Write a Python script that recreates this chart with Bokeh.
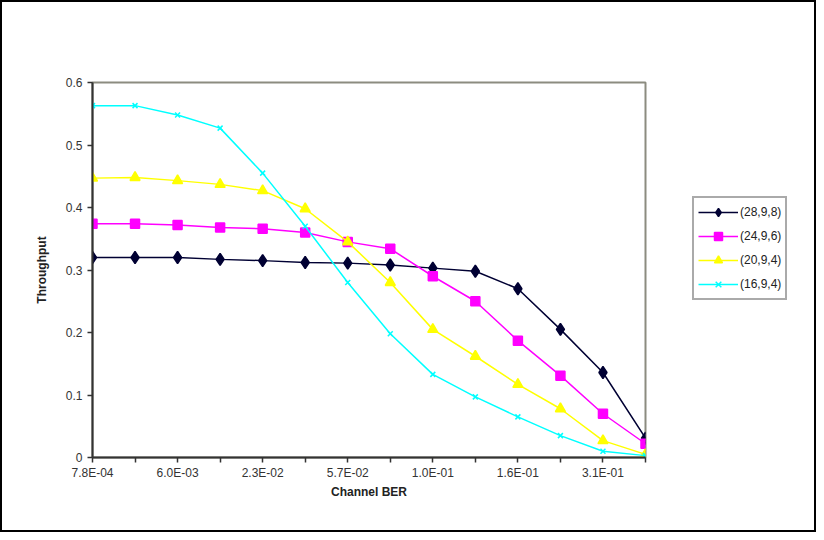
from bokeh.plotting import figure
from bokeh.layouts import row
from bokeh.models import FixedTicker, Legend, LegendItem, Range1d
from bokeh.embed import file_html
from bokeh.resources import INLINE

# ---- data ----
x_labels = ["7.8E-04", "", "6.0E-03", "", "2.3E-02", "", "5.7E-02", "",
            "1.0E-01", "", "1.6E-01", "", "3.1E-01", ""]
series_names = ["(28,9,8)", "(24,9,6)", "(20,9,4)", "(16,9,4)"]
s28 = [0.320, 0.320, 0.320, 0.317, 0.315, 0.312, 0.311, 0.308, 0.303, 0.298, 0.270, 0.205, 0.136, 0.031]
s24 = [0.374, 0.374, 0.372, 0.368, 0.366, 0.360, 0.345, 0.334, 0.290, 0.250, 0.187, 0.131, 0.070, 0.022]
s20 = [0.447, 0.448, 0.443, 0.437, 0.427, 0.398, 0.345, 0.280, 0.205, 0.162, 0.117, 0.078, 0.027, 0.005]
s16 = [0.563, 0.563, 0.548, 0.527, 0.455, 0.370, 0.280, 0.198, 0.133, 0.097, 0.065, 0.035, 0.010, 0.003]
y_ticks = [0, 0.1, 0.2, 0.3, 0.4, 0.5, 0.6]

xs = list(range(len(x_labels)))

p = figure(width=653, height=532, output_backend="svg", toolbar_location=None,
           x_range=Range1d(0, len(x_labels) - 1), y_range=Range1d(0, 0.6),
           min_border_left=90, min_border_right=10, min_border_top=80, min_border_bottom=77)
p.styles = {"border": "2px solid #000000", "border-right": "none"}
p.background_fill_color = "white"
p.border_fill_color = "white"
p.grid.visible = False
p.outline_line_color = "#8c8c80"
p.outline_line_width = 2

FONT = "Liberation Sans"
p.xaxis.ticker = FixedTicker(ticks=xs)
p.xaxis.major_label_overrides = {i: l for i, l in enumerate(x_labels)}
p.yaxis.ticker = FixedTicker(ticks=y_ticks)
p.yaxis.major_label_overrides = {0: "0", 0.1: "0.1", 0.2: "0.2", 0.3: "0.3", 0.4: "0.4", 0.5: "0.5", 0.6: "0.6"}
for ax in (p.xaxis[0], p.yaxis[0]):
    ax.minor_tick_line_color = None
    ax.major_tick_in = 0
    ax.major_tick_out = 5
    ax.axis_line_color = "#333333"
    ax.axis_line_width = 2
    ax.major_tick_line_color = "#333333"
    ax.major_tick_line_width = 1.5
    ax.major_label_text_font = FONT
    ax.major_label_text_font_size = "12px"
    ax.major_label_text_color = "#333333"
    ax.axis_label_text_font = FONT
    ax.axis_label_text_font_size = "12px"
    ax.axis_label_text_font_style = "bold"
    ax.axis_label_text_color = "#222222"
p.xaxis.axis_label = "Channel BER"
p.yaxis.axis_label = "Throughput"
p.xaxis.major_label_standoff = 3
p.xaxis.axis_label_standoff = 2
p.yaxis.axis_label_standoff = 14

# legend panel (separate figure so the legend sits outside the plot area);
# its ranges are set so that the series themselves fall outside its view
p2 = figure(width=163, height=532, output_backend="svg", toolbar_location=None,
            x_axis_type=None, y_axis_type=None,
            x_range=Range1d(-101, -100), y_range=Range1d(-101, -100),
            min_border_left=0, min_border_right=0, min_border_top=0, min_border_bottom=0)
p2.styles = {"border": "2px solid #000000", "border-left": "none"}
p2.grid.visible = False
p2.outline_line_color = None
p2.background_fill_color = "white"
p2.border_fill_color = "white"

items = []
specs = [
    (s28, "#000033", "diamond", 12),
    (s24, "#ff00ff", "square", 9),
    (s20, "#ffff00", "triangle", 10),
    (s16, "#00ffff", "x", 7),
]
for name, (ys, col, mk, sz) in zip(series_names, specs):
    p.line(xs, ys, line_color=col, line_width=1.5)
    p.scatter(xs, ys, marker=mk, size=sz, fill_color=col, line_color=col, line_width=1.5)
    l1 = p2.line(xs, ys, line_color=col, line_width=1.5)
    l2 = p2.scatter(xs, ys, marker=mk, size=sz, fill_color=col, line_color=col, line_width=1.5)
    items.append(LegendItem(label=name, renderers=[l1, l2]))

legend = Legend(items=items, location=(39, 157), orientation="vertical")
legend.label_text_font = FONT
legend.label_text_font_size = "12px"
legend.label_text_color = "#222222"
legend.glyph_width = 40
legend.glyph_height = 20
legend.label_standoff = 2
legend.spacing = 4
legend.padding = 4
legend.margin = 0
legend.border_line_color = "#555555"
legend.border_line_width = 2
legend.background_fill_alpha = 1
p2.add_layout(legend, "center")

layout = row(p, p2, spacing=0)
open("out.html", "w").write(file_html(layout, INLINE))
